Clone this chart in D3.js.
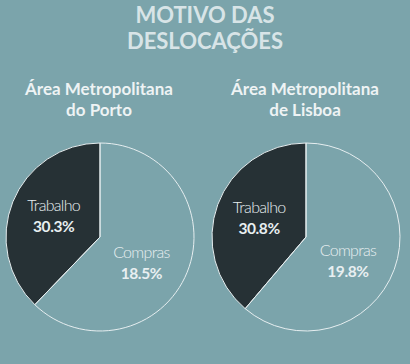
<!DOCTYPE html>
<html>
<head>
<meta charset="utf-8">
<script src="https://cdn.jsdelivr.net/npm/d3@7"></script>
<style>
  html, body { margin: 0; padding: 0; background: #7ba4ab; }
  svg { display: block; font-family: Lato, "Open Sans", sans-serif; }
</style>
</head>
<body>
<svg id="chart" width="410" height="364"></svg>
<script>
const titleLines = ["MOTIVO DAS", "DESLOCAÇÕES"];
const regions = [["Área Metropolitana", "do Porto"], ["Área Metropolitana", "de Lisboa"]];
const categories = ["Trabalho", "Compras"];
// percentages as written on the labels
const trabalhoPct = [30.3, 30.8];
const comprasPct = [18.5, 19.8];
// share of the circle filled by the dark slice
const trabalhoShare = [37.8, 38.8];

const width = 410, height = 364;
const radius = 94;
const centers = [100, 306];
const cy = 237;

const svg = d3.select("#chart");

svg.append("text")
  .attr("x", width / 2)
  .attr("text-anchor", "middle")
  .attr("fill", "#d8e4e7")
  .attr("font-size", 22)
  .attr("font-weight", 700)
  .selectAll("tspan")
  .data(titleLines)
  .join("tspan")
  .attr("x", width / 2)
  .attr("y", (d, i) => 23 + i * 26)
  .text(d => d);

const pie = d3.pie().sort(null).value(d => d);
const arc = d3.arc().innerRadius(0).outerRadius(radius);
const labelArc = d3.arc().innerRadius(50).outerRadius(50);

regions.forEach((reg, k) => {
  const cx = centers[k];

  svg.append("text")
    .attr("text-anchor", "middle")
    .attr("fill", "#eef3f4")
    .attr("font-size", 17)
    .attr("font-weight", 700)
    .selectAll("tspan")
    .data(reg)
    .join("tspan")
    .attr("x", cx - 1)
    .attr("y", (d, i) => 95 + i * 21)
    .text(d => d);

  const g = svg.append("g").attr("transform", `translate(${cx},${cy})`);
  // dark slice runs counter-clockwise from 12 o'clock
  const arcs = pie.startAngle(0).endAngle(-2 * Math.PI)([trabalhoShare[k], 100 - trabalhoShare[k]]);

  g.selectAll("path")
    .data(arcs)
    .join("path")
    .attr("d", arc)
    .attr("fill", (d, i) => i === 0 ? "#263135" : "none")
    .attr("stroke", "#e6eef0")
    .attr("stroke-width", 1);

  const pcts = [trabalhoPct[k], comprasPct[k]];
  arcs.forEach((a, i) => {
    let [lx, ly] = labelArc.centroid(a);
    if (i === 1) { lx -= 5; ly += 6; } else { ly -= 3; }
    const t = g.append("text")
      .attr("text-anchor", "middle")
      .attr("fill", "#e8eff1");
    t.append("tspan")
      .attr("x", lx)
      .attr("y", ly - 4)
      .attr("font-size", 16)
      .attr("font-weight", 300)
      .attr("letter-spacing", -0.7)
      .text(categories[i]);
    t.append("tspan")
      .attr("x", lx)
      .attr("y", ly + 17)
      .attr("font-size", 15.5)
      .attr("font-weight", 700)
      .attr("letter-spacing", -0.4)
      .text(d3.format(".1f")(pcts[i]) + "%");
  });
});
</script>
</body>
</html>
